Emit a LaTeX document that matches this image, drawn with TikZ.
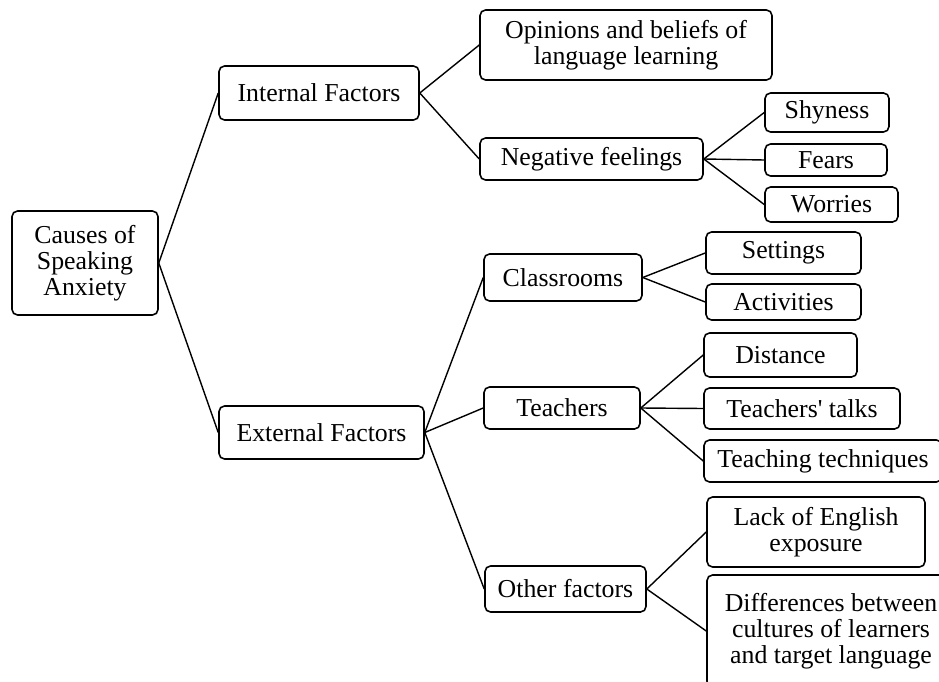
\documentclass[tikz,border=0pt]{standalone}
\usepackage{fontspec}
\setmainfont{Liberation Serif}

\begin{document}
\begin{tikzpicture}[x=0.02cm, y=-0.02cm,
  box/.style={draw, rounded corners=0.11cm, line width=0.9pt, align=center,
    inner sep=0pt, font=\fontsize{14.7pt}{14.9pt}\selectfont},
  link/.style={line width=0.8pt}]
\useasboundingbox (0,0) rectangle (939,682);

\node[box, minimum width=2.92cm, minimum height=2.08cm] (cause) at (85,263) {Causes of\\Speaking\\Anxiety};

\node[box, minimum width=4.00cm, minimum height=1.08cm] (int) at (319,93) {Internal Factors};
\node[box, minimum width=4.10cm, minimum height=1.06cm] (ext) at (321.5,432.5) {External Factors};

\node[box, minimum width=5.84cm, minimum height=1.40cm] (opin) at (626,45) {Opinions and beliefs of\\language learning};
\node[box, minimum width=4.46cm, minimum height=0.84cm] (neg) at (591.5,159) {Negative feelings};
\node[box, minimum width=2.48cm, minimum height=0.78cm] (shy) at (827,112.5) {Shyness};
\node[box, minimum width=2.44cm, minimum height=0.64cm] (fear) at (826,160) {Fears};
\node[box, minimum width=2.66cm, minimum height=0.70cm] (worry) at (831.5,204.5) {Worries};

\node[box, minimum width=3.16cm, minimum height=0.94cm] (class) at (563,277.5) {Classrooms};
\node[box, minimum width=3.10cm, minimum height=0.84cm] (set) at (783.5,253) {Settings};
\node[box, minimum width=3.10cm, minimum height=0.72cm] (act) at (783.5,302) {Activities};

\node[box, minimum width=3.12cm, minimum height=0.84cm] (teach) at (562,408) {Teachers};
\node[box, minimum width=3.06cm, minimum height=0.88cm] (dist) at (780.5,355) {Distance};
\node[box, minimum width=3.92cm, minimum height=0.82cm] (talk) at (802,408.5) {Teachers\textquotesingle{} talks};
\node[box, minimum width=4.76cm, minimum height=0.84cm] (tech) at (823,461) {Teaching techniques};

\node[box, minimum width=3.22cm, minimum height=0.92cm] (other) at (565.5,589) {Other factors};
\node[box, minimum width=4.36cm, minimum height=1.40cm] (lack) at (816,532) {Lack of English\\exposure};
\node[box, minimum width=4.96cm, minimum height=2.24cm] (diff) at (831,631) {Differences between\\cultures of learners\\and target language};

\draw[link] (cause.east) -- (int.west);
\draw[link] (cause.east) -- (ext.west);
\draw[link] (int.east) -- (opin.west);
\draw[link] (int.east) -- (neg.west);
\draw[link] (neg.east) -- (shy.west);
\draw[link] (neg.east) -- (fear.west);
\draw[link] (neg.east) -- (worry.west);
\draw[link] (ext.east) -- (class.west);
\draw[link] (ext.east) -- (teach.west);
\draw[link] (ext.east) -- (other.west);
\draw[link] (class.east) -- (set.west);
\draw[link] (class.east) -- (act.west);
\draw[link] (teach.east) -- (dist.west);
\draw[link] (teach.east) -- (talk.west);
\draw[link] (teach.east) -- (tech.west);
\draw[link] (other.east) -- (lack.west);
\draw[link] (other.east) -- (diff.west);
\end{tikzpicture}
\end{document}
